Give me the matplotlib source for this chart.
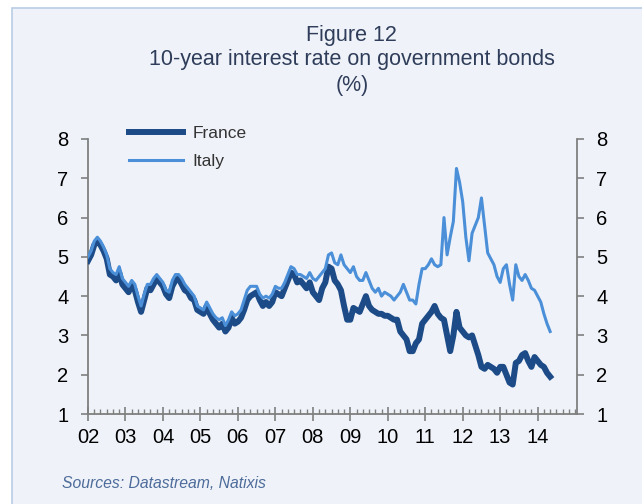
import numpy as np
import matplotlib
matplotlib.use("Agg")
import matplotlib.pyplot as plt
from matplotlib.patches import Rectangle
from matplotlib.ticker import MultipleLocator, FixedLocator

plt.rcParams['font.family'] = ['Liberation Sans', 'DejaVu Sans']

# Monthly 10-year yields (%), Jan 2002 .. May 2014
france = [
    4.90, 5.05, 5.30, 5.40, 5.30, 5.15, 4.95, 4.55, 4.50, 4.40, 4.60, 4.30,  # 2002
    4.20, 4.10, 4.30, 4.15, 3.85, 3.60, 3.90, 4.20, 4.15, 4.30, 4.45, 4.35,  # 2003
    4.25, 4.05, 3.95, 4.25, 4.40, 4.45, 4.30, 4.15, 4.10, 3.95, 3.90, 3.65,  # 2004
    3.60, 3.55, 3.75, 3.55, 3.40, 3.30, 3.20, 3.30, 3.10, 3.20, 3.45, 3.30,  # 2005
    3.35, 3.45, 3.65, 3.90, 4.00, 4.05, 4.10, 3.90, 3.75, 3.85, 3.75, 3.85,  # 2006
    4.10, 4.05, 4.00, 4.20, 4.40, 4.60, 4.55, 4.35, 4.40, 4.30, 4.20, 4.35,  # 2007
    4.10, 4.00, 3.90, 4.20, 4.35, 4.75, 4.70, 4.40, 4.30, 4.15, 3.75, 3.40,  # 2008
    3.40, 3.70, 3.65, 3.60, 3.80, 4.00, 3.75, 3.65, 3.60, 3.55, 3.55, 3.50,  # 2009
    3.50, 3.45, 3.40, 3.40, 3.10, 3.00, 2.90, 2.60, 2.60, 2.80, 2.90, 3.30,  # 2010
    3.40, 3.50, 3.60, 3.75, 3.55, 3.45, 3.40, 3.00, 2.60, 3.00, 3.60, 3.20,  # 2011
    3.10, 3.00, 2.95, 3.00, 2.75, 2.50, 2.20, 2.15, 2.25, 2.20, 2.15, 2.05,  # 2012
    2.20, 2.20, 2.00, 1.80, 1.75, 2.30, 2.35, 2.50, 2.55, 2.35, 2.20, 2.45,  # 2013
    2.35, 2.25, 2.20, 2.05, 1.95,                                            # 2014
]

italy = [
    5.00, 5.15, 5.40, 5.50, 5.40, 5.25, 5.05, 4.70, 4.60, 4.55, 4.75, 4.45,  # 2002
    4.35, 4.25, 4.40, 4.30, 4.00, 3.75, 4.05, 4.30, 4.30, 4.45, 4.55, 4.45,  # 2003
    4.35, 4.15, 4.10, 4.40, 4.55, 4.55, 4.45, 4.30, 4.20, 4.10, 4.00, 3.75,  # 2004
    3.70, 3.65, 3.85, 3.70, 3.55, 3.45, 3.40, 3.45, 3.25, 3.40, 3.60, 3.50,  # 2005
    3.55, 3.65, 3.90, 4.15, 4.25, 4.25, 4.25, 4.05, 3.95, 4.00, 3.95, 4.05,  # 2006
    4.25, 4.20, 4.20, 4.35, 4.55, 4.75, 4.70, 4.55, 4.55, 4.50, 4.45, 4.60,  # 2007
    4.45, 4.40, 4.50, 4.60, 4.70, 5.05, 5.10, 4.85, 4.80, 5.05, 4.80, 4.70,  # 2008
    4.60, 4.75, 4.50, 4.40, 4.40, 4.60, 4.40, 4.20, 4.10, 4.20, 4.00, 4.10,  # 2009
    4.05, 4.00, 3.90, 4.00, 4.10, 4.30, 4.10, 3.90, 3.90, 3.80, 4.30, 4.70,  # 2010
    4.70, 4.80, 4.95, 4.80, 4.75, 4.80, 6.00, 5.05, 5.50, 5.90, 7.25, 6.90,  # 2011
    6.40, 5.50, 4.90, 5.60, 5.80, 6.00, 6.50, 5.80, 5.10, 4.95, 4.80, 4.50,  # 2012
    4.35, 4.70, 4.80, 4.30, 3.90, 4.80, 4.50, 4.40, 4.55, 4.40, 4.20, 4.15,  # 2013
    4.00, 3.85, 3.55, 3.30, 3.10,                                            # 2014
]

start_year = 2002
dates = start_year + np.arange(len(france)) / 12.0

year_ticks = list(range(2002, 2015))
year_labels = [f"{y % 100:02d}" for y in year_ticks]
y_ticks = [1, 2, 3, 4, 5, 6, 7, 8]

france_color = '#1c4b87'
italy_color = '#4b8fd8'
axis_color = '#7f7f7f'
panel_color = '#eff3f9'

fig = plt.figure(figsize=(6.42, 5.04), dpi=100)
fig.patch.set_facecolor('white')
# framed panel behind the chart
fig.patches.append(Rectangle((12 / 642, -0.01), 1.0, 1.01 - 8 / 504,
                             transform=fig.transFigure, facecolor=panel_color,
                             edgecolor='#b9cde6', linewidth=1.2, zorder=-5))

ax = fig.add_axes([88 / 642, 1 - 414 / 504, (577 - 88) / 642, (414 - 139) / 504])
ax.set_zorder(2)
ax.set_facecolor('none')

ax.plot(dates, france, color=france_color, lw=4.3, solid_joinstyle='round',
        label='France', zorder=3)
ax.plot(dates, italy, color=italy_color, lw=2.2, solid_joinstyle='round',
        label='Italy', zorder=4)

ax.set_xlim(2002, 2015.05)
ax.set_ylim(1, 8)

for side in ('left', 'right', 'bottom'):
    ax.spines[side].set_color(axis_color)
    ax.spines[side].set_linewidth(1.3)
ax.spines['top'].set_visible(False)

ax.xaxis.set_major_locator(FixedLocator(year_ticks))
ax.set_xticklabels(year_labels)
ax.xaxis.set_minor_locator(MultipleLocator(1 / 6))
ax.tick_params(axis='x', which='major', direction='inout', length=10, width=1.2,
               color=axis_color, labelsize=14.5, pad=5)
ax.tick_params(axis='x', which='minor', direction='in', length=3.5, width=1.0,
               color=axis_color)

ax.set_yticks(y_ticks)
ax.tick_params(axis='y', which='major', direction='out', length=5, width=1.2,
               color=axis_color, labelsize=14.5, pad=9,
               left=True, right=True, labelleft=True, labelright=True)

leg = ax.legend(loc='upper left', bbox_to_anchor=(0.052, 1.105), frameon=False,
                fontsize=12.5, handlelength=3.1, handletextpad=0.55,
                labelspacing=0.75)
for t in leg.get_texts():
    t.set_color('#333333')

title_color = '#2f3d5a'
fig.text(0.548, 1 - 35 / 504, 'Figure 12', ha='center', va='center',
         fontsize=15.5, color=title_color)
fig.text(0.548, 1 - 60 / 504, '10-year interest rate on government bonds',
         ha='center', va='center', fontsize=15.5, color=title_color)
fig.text(0.548, 1 - 85 / 504, '(%)', ha='center', va='center',
         fontsize=15.5, color=title_color)

fig.text(62 / 642, 1 - 484 / 504, 'Sources: Datastream, Natixis', ha='left',
         va='center', fontsize=11.3, style='italic', color='#4d6b9a')

fig.savefig('out.png', dpi=100, facecolor=fig.get_facecolor())
